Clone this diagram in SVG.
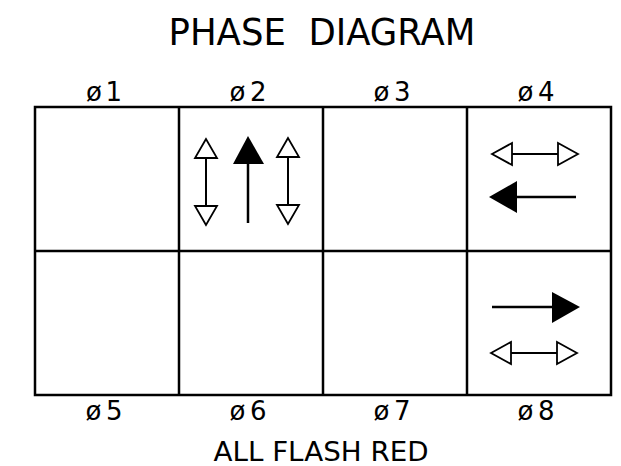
<svg xmlns="http://www.w3.org/2000/svg" width="621" height="466" viewBox="0 0 621 466">
<style>
text{font-family:"DejaVu Sans","Liberation Sans",sans-serif;fill:#000;text-anchor:middle}
.t{font-size:38px;white-space:pre}
.l{font-size:26px}
.b{font-size:26px}
.grid{fill:none;stroke:#000;stroke-width:2.5}
.ln{stroke:#000;stroke-width:2;fill:none}
.lnb{stroke:#000;stroke-width:2.5;fill:none}
.oh{fill:#fff;stroke:#000;stroke-width:1.8;stroke-linejoin:miter}
.fh{fill:#000;stroke:none}
</style>
<rect width="621" height="466" fill="#fff"/>
<text class="t" x="322" y="45" xml:space="preserve" textLength="307" lengthAdjust="spacingAndGlyphs">PHASE  DIAGRAM</text>
<g id="grid">
<rect class="grid" x="35" y="107" width="576" height="288"/>
<line class="grid" x1="35" y1="251" x2="611" y2="251"/>
<line class="grid" x1="179" y1="107" x2="179" y2="395"/>
<line class="grid" x1="323" y1="107" x2="323" y2="395"/>
<line class="grid" x1="467" y1="107" x2="467" y2="395"/>
</g>
<g id="labels">
<text class="l" x="104" y="101" textLength="36" lengthAdjust="spacing">ø1</text>
<text class="l" x="248" y="101" textLength="37" lengthAdjust="spacing">ø2</text>
<text class="l" x="392" y="101" textLength="37" lengthAdjust="spacing">ø3</text>
<text class="l" x="536" y="101" textLength="37" lengthAdjust="spacing">ø4</text>
<text class="l" x="104" y="420" textLength="37" lengthAdjust="spacing">ø5</text>
<text class="l" x="248" y="420" textLength="37" lengthAdjust="spacing">ø6</text>
<text class="l" x="392" y="420" textLength="37" lengthAdjust="spacing">ø7</text>
<text class="l" x="536" y="420" textLength="37" lengthAdjust="spacing">ø8</text>
</g>
<text class="b" x="321" y="461" textLength="215" lengthAdjust="spacingAndGlyphs">ALL FLASH RED</text>
<g id="phase2">
<line class="ln" x1="206" y1="158" x2="206" y2="206"/>
<polygon class="oh" points="206,139 195,158 217,158"/>
<polygon class="oh" points="206,225 195,206 217,206"/>
<line class="ln" x1="288" y1="157" x2="288" y2="205"/>
<polygon class="oh" points="288,138 277,157 299,157"/>
<polygon class="oh" points="288,224 277,205 299,205"/>
<line class="lnb" x1="248" y1="163" x2="248" y2="223"/>
<polygon class="fh" points="248,136 233,164 264,164"/>
</g>
<g id="phase4">
<line class="ln" x1="512" y1="154" x2="558" y2="154"/>
<polygon class="oh" points="492,154 512,143 512,165"/>
<polygon class="oh" points="578,154 558,143 558,165"/>
<line class="lnb" x1="516" y1="197" x2="576" y2="197"/>
<polygon class="fh" points="489,197 517,181 517,213"/>
</g>
<g id="phase8">
<line class="lnb" x1="492" y1="307" x2="553" y2="307"/>
<polygon class="fh" points="580,307 552,292 552,323"/>
<line class="ln" x1="511" y1="353" x2="557" y2="353"/>
<polygon class="oh" points="491,353 511,342 511,364"/>
<polygon class="oh" points="577,353 557,342 557,364"/>
</g>
</svg>
